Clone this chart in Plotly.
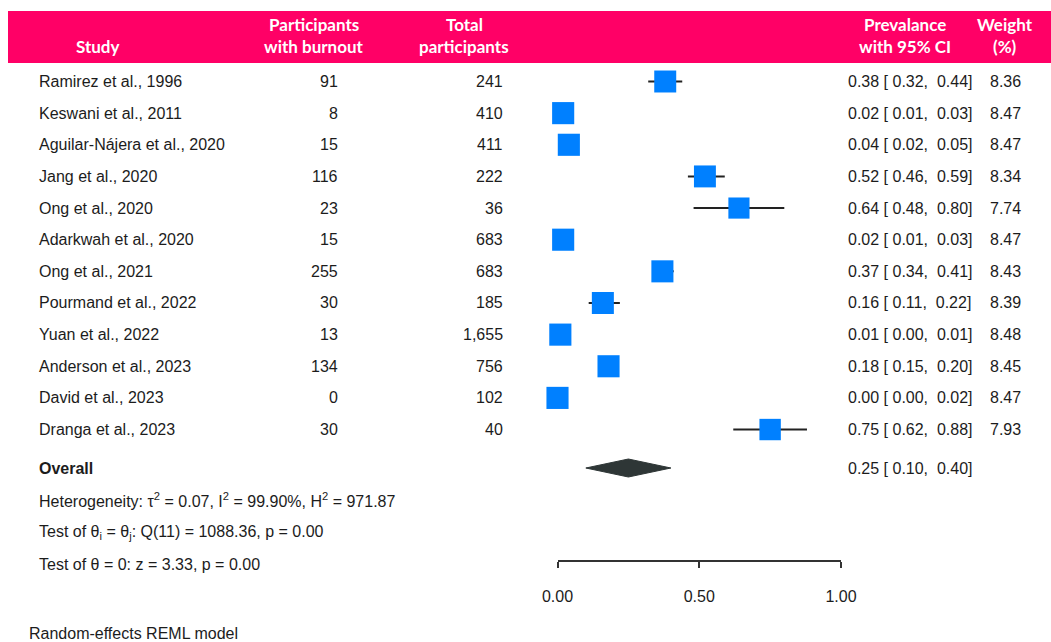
import plotly.graph_objects as go

# ---- study-level data -------------------------------------------------------
studies = [
    "Ramirez et al., 1996", "Keswani et al., 2011", "Aguilar-Nájera et al., 2020",
    "Jang et al., 2020", "Ong et al., 2020", "Adarkwah et al., 2020",
    "Ong et al., 2021", "Pourmand et al., 2022", "Yuan et al., 2022",
    "Anderson et al., 2023", "David et al., 2023", "Dranga et al., 2023",
]
burnout = [91, 8, 15, 116, 23, 15, 255, 30, 13, 134, 0, 30]
totals = [241, 410, 411, 222, 36, 683, 683, 185, 1655, 756, 102, 40]
prevalence = [0.38, 0.02, 0.04, 0.52, 0.64, 0.02, 0.37, 0.16, 0.01, 0.18, 0.00, 0.75]
ci_low = [0.32, 0.01, 0.02, 0.46, 0.48, 0.01, 0.34, 0.11, 0.00, 0.15, 0.00, 0.62]
ci_high = [0.44, 0.03, 0.05, 0.59, 0.80, 0.03, 0.41, 0.22, 0.01, 0.20, 0.02, 0.88]
weights = [8.36, 8.47, 8.47, 8.34, 7.74, 8.47, 8.43, 8.39, 8.48, 8.45, 8.47, 7.93]

# pooled random-effects estimate
overall_est, overall_low, overall_high = 0.25, 0.10, 0.40

axis_ticks = [0.0, 0.5, 1.0]
axis_ticktext = ["0.00", "0.50", "1.00"]

# ---- layout constants (pixels) ---------------------------------------------
W, H = 1051, 642
X0_PX, X1_PX = 557.5, 841.0          # plot x-range [0, 1] spans these pixels
ROW0_PX, ROW_STEP = 81.5, 31.64      # centre of first study row, row spacing
OVERALL_PX = 468
AXIS_PX = 561

PINK = "#FF0066"
BLUE = "#0080FF"
TXT = "#1c1c1c"
BODY = "Liberation Sans, Arial, sans-serif"
HEAD = "Lato, Open Sans, sans-serif"
FS = 16


def px_x(p):
    return p / W


def px_y(p):
    return 1 - p / H


def row_of(p):
    return (p - ROW0_PX) / ROW_STEP


rows = list(range(len(studies)))
overall_row = row_of(OVERALL_PX)
y_range = [row_of(H), row_of(0)]

fig = go.Figure()

# confidence-interval whiskers (drawn first so the squares sit on top)
wx, wy = [], []
for r, lo, hi in zip(rows, ci_low, ci_high):
    wx += [lo, hi, None]
    wy += [r, r, None]
fig.add_trace(go.Scatter(x=wx, y=wy, mode="lines",
                         line=dict(color="#222222", width=2),
                         hoverinfo="skip", cliponaxis=False))

# study squares, sized by weight
fig.add_trace(go.Scatter(
    x=prevalence, y=rows, mode="markers",
    marker=dict(symbol="square", color=BLUE, opacity=1,
                size=[7.6 * w ** 0.5 for w in weights], line=dict(width=0)),
    cliponaxis=False, hoverinfo="skip"))

# pooled diamond
half_h = 9 / ROW_STEP
fig.add_trace(go.Scatter(
    x=[overall_low, overall_est, overall_high, overall_est, overall_low],
    y=[overall_row, overall_row - half_h, overall_row, overall_row + half_h, overall_row],
    mode="lines", fill="toself", fillcolor="#2E3636",
    line=dict(color="#2E3636", width=1), hoverinfo="skip", cliponaxis=False))

ann = []


def text(x_px, y, s, anchor="left", yref="y", bold=False, size=FS, color=TXT, family=BODY):
    ann.append(dict(
        x=px_x(x_px), xref="paper", y=y, yref=yref, text=f"<b>{s}</b>" if bold else s,
        xanchor=anchor, yanchor="middle", showarrow=False,
        font=dict(family=family, size=size, color=color)))


# table columns
for r in rows:
    text(37, r, studies[r])
    text(339.5, r, f"{burnout[r]}", anchor="right")
    text(505, r, f"{totals[r]:,}", anchor="right")
    text(845.5, r, f"{prevalence[r]:.2f} [ {ci_low[r]:.2f}, \u00a0{ci_high[r]:.2f}]")
    text(1023, r, f"{weights[r]:.2f}", anchor="right")

text(37, overall_row, "Overall", bold=True)
text(845.5, overall_row, f"{overall_est:.2f} [ {overall_low:.2f}, \u00a0{overall_high:.2f}]")

text(37, px_y(500), "Heterogeneity: τ<sup>2</sup> = 0.07, I<sup>2</sup> = 99.90%, "
     "H<sup>2</sup> = 971.87", yref="paper")
text(37, px_y(532), "Test of θ<sub>i</sub> = θ<sub>j</sub>: Q(11) = 1088.36, p = 0.00",
     yref="paper")
text(37, px_y(564), "Test of θ = 0: z = 3.33, p = 0.00", yref="paper")
text(26.5, px_y(633), "Random-effects REML model", yref="paper")

# header band
headers = [
    (98, ["", "Study"]),
    (313.5, ["Participants", "with burnout"]),
    (464, ["Total", "participants"]),
    (905, ["Prevalance", "with 95% CI"]),
    (1004.5, ["Weight", "(%)"]),
]
for cx, lines in headers:
    for line_txt, ypx in zip(lines, [25, 47]):
        if line_txt:
            text(cx, px_y(ypx), line_txt, anchor="center", yref="paper", bold=True,
                 size=17, color="white", family=HEAD)

fig.update_layout(
    width=W, height=H, autosize=False,
    margin=dict(l=0, r=0, t=0, b=0, pad=0, autoexpand=False),
    paper_bgcolor="white", plot_bgcolor="rgba(0,0,0,0)",
    showlegend=False,
    annotations=ann,
    shapes=[dict(type="rect", xref="paper", yref="paper",
                 x0=px_x(8), x1=1, y0=px_y(63), y1=px_y(11),
                 fillcolor=PINK, line=dict(width=0), layer="below")],
    xaxis=dict(domain=[px_x(X0_PX), px_x(X1_PX)], range=[0, 1],
               anchor="free", position=px_y(AXIS_PX),
               showgrid=False, zeroline=False,
               showline=True, linecolor="#333333", linewidth=2,
               ticks="outside", ticklen=6, tickwidth=1.5, tickcolor="#333333",
               tickvals=axis_ticks, ticktext=axis_ticktext,
               ticklabelstandoff=15,
               tickfont=dict(family=BODY, size=FS, color=TXT)),
    yaxis=dict(domain=[0, 1], range=y_range, visible=False,
               showgrid=False, zeroline=False),
)

fig.write_html("out.html")
